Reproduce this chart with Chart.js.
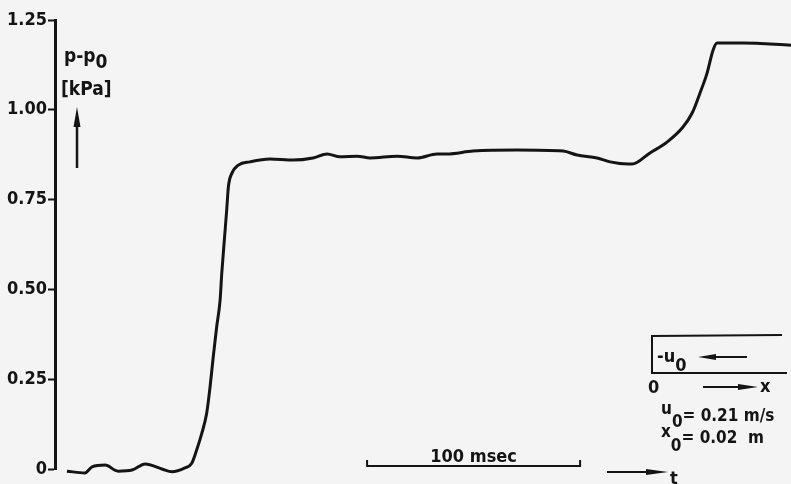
<!DOCTYPE html>
<html>
<head>
<meta charset="utf-8">
<script src="https://cdn.jsdelivr.net/npm/chart.js@4/dist/chart.umd.min.js"></script>
<style>
  html, body { margin: 0; padding: 0; background: #f4f4f4; }
  #wrap { width: 791px; height: 484px; }
</style>
</head>
<body>
<div id="wrap"><canvas id="trace"></canvas></div>
<script>
// time in msec from the pressure axis, p - p0 in kPa
const timeMs = [
  5.6, 14.1, 17.4, 23.5, 29.6, 36.2, 42.3, 50.2, 54.9, 61.0,
  64.2, 66.5, 68.9, 71.2, 72.8, 74.3, 75.9, 77.5, 78.3, 79.5,
  80.6, 81.4, 83.0, 86.1, 91.5, 100.9, 111.7, 121.1, 127.7, 133.8,
  141.8, 147.9, 160.6, 170.0, 179.3, 184.0, 196.2, 216.9, 238.5, 245.1,
  254.5, 260.6, 269.0, 270.9, 279.3, 287.3, 294.8, 299.1, 302.8, 306.1,
  308.9, 310.8, 323.0, 345.5
];
const pressure = [
  -0.006, -0.011, 0.006, 0.011, -0.006, -0.003, 0.014, 0.0, -0.008, 0.003,
  0.016, 0.053, 0.099, 0.155, 0.229, 0.313, 0.396, 0.470, 0.546, 0.638,
  0.721, 0.786, 0.823, 0.846, 0.855, 0.863, 0.860, 0.866, 0.877, 0.869,
  0.871, 0.866, 0.871, 0.866, 0.877, 0.877, 0.885, 0.888, 0.885, 0.874,
  0.866, 0.855, 0.849, 0.849, 0.880, 0.910, 0.952, 0.991, 1.047, 1.102,
  1.166, 1.186, 1.186, 1.180
];
const yTicks = [0, 0.25, 0.5, 0.75, 1.0, 1.25];
const yTickLabels = ["0", "0.25", "0.50", "0.75", "1.00", "1.25"];
const barStartMs = 146.5;   // left end of the "100 msec" bar
const barLengthMs = 100;

const ink = "#141414";
const narrow = '"DejaVu Sans Condensed", "Liberation Sans Narrow", sans-serif';

function arrow(ctx, x1, y1, x2, y2, head = 13, half = 3) {
  const a = Math.atan2(y2 - y1, x2 - x1);
  ctx.beginPath();
  ctx.moveTo(x1, y1);
  ctx.lineTo(x2 - Math.cos(a) * head * 0.6, y2 - Math.sin(a) * head * 0.6);
  ctx.stroke();
  ctx.beginPath();
  ctx.moveTo(x2, y2);
  ctx.lineTo(x2 - Math.cos(a) * head - Math.sin(a) * half, y2 - Math.sin(a) * head + Math.cos(a) * half);
  ctx.lineTo(x2 - Math.cos(a) * head + Math.sin(a) * half, y2 - Math.sin(a) * head - Math.cos(a) * half);
  ctx.closePath();
  ctx.fill();
}

// text followed by a lowered "0"
function withSub(ctx, txt, x, y, drop = 9) {
  ctx.fillText(txt, x, y);
  const w = ctx.measureText(txt).width;
  ctx.fillText("0", x + w, y + drop);
  return x + w + ctx.measureText("0").width;
}

const paper = {
  id: "paper",
  beforeDraw(chart) {
    const ctx = chart.ctx;
    ctx.save();
    ctx.fillStyle = "#f4f4f4";
    ctx.fillRect(0, 0, chart.width, chart.height);
    ctx.restore();
  }
};

const notes = {
  id: "notes",
  afterDraw(chart) {
    const ctx = chart.ctx, xs = chart.scales.x;
    ctx.save();
    ctx.fillStyle = ink;
    ctx.strokeStyle = ink;
    ctx.textBaseline = "alphabetic";
    ctx.font = "bold 19px " + narrow;

    // axis quantity
    withSub(ctx, "p-p", 64, 62, 6);
    ctx.fillText("[kPa]", 61, 95);
    ctx.lineWidth = 2.5;
    arrow(ctx, 77, 168, 77, 107, 20, 3.5);

    // 100 msec bar
    const a = xs.getPixelForValue(barStartMs);
    const b = xs.getPixelForValue(barStartMs + barLengthMs);
    ctx.lineWidth = 2;
    ctx.beginPath();
    ctx.moveTo(a, 460); ctx.lineTo(a, 466); ctx.lineTo(b, 466); ctx.lineTo(b, 460);
    ctx.stroke();
    ctx.font = "bold 18px " + narrow;
    ctx.textAlign = "center";
    ctx.fillText("100 msec", (a + b) / 2, 462);
    ctx.textAlign = "left";

    // time arrow
    arrow(ctx, 607, 472, 668, 472, 22, 3);
    ctx.fillText("t", 670, 484);

    // inset: channel sketch
    ctx.lineWidth = 2;
    ctx.beginPath();
    ctx.moveTo(782, 335); ctx.lineTo(652, 336); ctx.lineTo(652, 373); ctx.lineTo(787, 373);
    ctx.stroke();
    withSub(ctx, "-u", 657, 362, 9);
    arrow(ctx, 747, 357, 698, 357, 18, 3);
    ctx.fillText("0", 648, 393);
    arrow(ctx, 703, 387, 758, 387, 20, 3);
    ctx.fillText("x", 760, 392);

    ctx.font = "bold 17px " + narrow;
    let x = withSub(ctx, "u", 661, 414, 13);
    ctx.fillText("= 0.21 m/s", x, 421);
    x = withSub(ctx, "x", 661, 437, 14);
    ctx.fillText("= 0.02  m", x, 443);
    ctx.restore();
  }
};

new Chart(document.getElementById("trace"), {
  type: "line",
  data: {
    datasets: [{
      data: timeMs.map((t, i) => ({ x: t, y: pressure[i] })),
      borderColor: ink,
      borderWidth: 3,
      pointRadius: 0,
      cubicInterpolationMode: "monotone",
      fill: false,
      clip: { left: 0, top: 6, right: 0, bottom: 10 }
    }]
  },
  options: {
    responsive: true,
    maintainAspectRatio: false,
    animation: false,
    events: [],
    layout: { padding: { top: 20, bottom: 15, left: 0, right: 0 } },
    plugins: {
      legend: { display: false },
      tooltip: { enabled: false },
      title: { display: false }
    },
    scales: {
      x: { type: "linear", min: 0, max: 345.5, display: false },
      y: {
        min: 0,
        max: 1.25,
        afterBuildTicks: (s) => { s.ticks = yTicks.map((v) => ({ value: v })); },
        afterFit: (s) => { s.width = 55; },
        ticks: {
          color: ink,
          padding: 1,
          font: { family: narrow, size: 18, weight: "bold" },
          callback: (v) => yTickLabels[yTicks.indexOf(v)]
        },
        grid: { drawOnChartArea: false, tickLength: 7, tickWidth: 2, color: ink },
        border: { display: true, width: 3, color: ink }
      }
    }
  },
  plugins: [paper, notes]
});
</script>
</body>
</html>
